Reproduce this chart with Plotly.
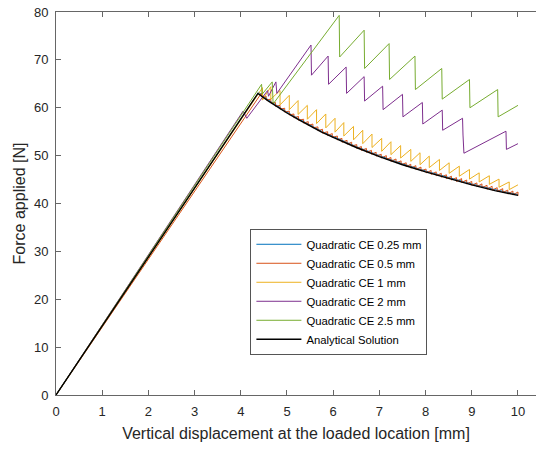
import plotly.graph_objects as go

# ---------------- data ----------------
analytic_x = [0, 4.37, 4.6, 4.8, 5.0, 5.25, 5.5, 5.75, 6.0, 6.5, 7.0, 7.5, 8.0, 8.5, 9.0, 9.5, 10.0]
analytic_F = [0, 63.0, 61.4, 60.1, 58.9, 57.5, 56.2, 54.9, 53.8, 51.7, 49.8, 48.1, 46.6, 45.2, 43.9, 42.7, 41.7]

blue_x = [0, 4.39, 4.6, 4.8, 5.0, 5.25, 5.5, 5.75, 6.0, 6.5, 7.0, 7.5, 8.0, 8.5, 9.0, 9.5, 10.0]
blue_F = [0, 63.2, 61.6, 60.3, 59.1, 57.7, 56.4, 55.1, 54.0, 51.9, 50.0, 48.3, 46.8, 45.4, 44.1, 42.9, 41.9]

red_peak_x = [4.45, 4.55, 4.65, 4.75, 4.85, 4.95, 5.05, 5.15, 5.25, 5.36, 5.46, 5.56, 5.67, 5.77,
              5.88, 5.98, 6.09, 6.19, 6.30, 6.40, 6.51, 6.61, 6.72, 6.83, 6.93, 7.04, 7.15, 7.25,
              7.36, 7.47, 7.58, 7.68, 7.79, 7.90, 8.01, 8.12, 8.23, 8.34, 8.45, 8.56, 8.67, 8.78,
              8.89, 9.00, 9.11, 9.22, 9.33, 9.44, 9.55, 9.67, 9.78, 9.89, 10.0]
red_peak_F = [63.1, 62.4, 61.8, 61.1, 60.5, 59.9, 59.3, 58.7, 58.2, 57.6, 57.1, 56.6, 56.0, 55.5,
              55.0, 54.6, 54.1, 53.6, 53.2, 52.8, 52.3, 51.9, 51.5, 51.1, 50.7, 50.3, 50.0, 49.6,
              49.3, 48.9, 48.5, 48.2, 47.9, 47.6, 47.2, 46.9, 46.6, 46.3, 46.0, 45.7, 45.4, 45.2,
              44.9, 44.6, 44.3, 44.1, 43.8, 43.6, 43.3, 43.1, 42.8, 42.6, 42.4]
red_drop_F = [62.3, 61.6, 61.0, 60.3, 59.7, 59.1, 58.5, 57.9, 57.4, 56.8, 56.3, 55.8, 55.2, 54.7,
              54.2, 53.8, 53.3, 52.8, 52.4, 52.0, 51.5, 51.1, 50.7, 50.3, 49.9, 49.5, 49.2, 48.8,
              48.5, 48.1, 47.7, 47.4, 47.1, 46.8, 46.4, 46.1, 45.8, 45.5, 45.2, 44.9, 44.6, 44.4,
              44.1, 43.8, 43.5, 43.3, 43.0, 42.8, 42.5, 42.3, 42.0, 41.8, 41.6]

yellow_peak_x = [4.47, 4.65, 4.85, 5.05, 5.24, 5.44, 5.64, 5.84, 6.04, 6.23, 6.44, 6.64, 6.84, 7.05,
                 7.25, 7.46, 7.68, 7.88, 8.08, 8.30, 8.51, 8.73, 8.95, 9.16, 9.38, 9.59, 9.81]
yellow_peak_F = [64.2, 64.4, 63.6, 62.6, 61.5, 60.5, 59.6, 58.7, 57.8, 56.9, 56.1, 55.3, 54.5, 53.6,
                 52.9, 52.1, 51.3, 50.6, 49.9, 49.2, 48.5, 47.8, 47.1, 46.4, 45.8, 45.1, 44.5]
yellow_drop_F = [61.6, 61.8, 60.6, 59.6, 58.6, 57.6, 56.7, 55.8, 54.9, 54.1, 53.3, 52.5, 51.7, 50.9,
                 50.2, 49.5, 48.8, 48.1, 47.5, 46.9, 46.3, 45.7, 45.1, 44.5, 44.0, 43.4, 42.9]
yellow_end = (10.0, 43.9)

purple_x = [0, 4.05, 4.13, 4.58, 4.60, 4.76, 4.78, 5.52, 5.53, 5.89, 5.90, 6.28, 6.29, 6.67, 6.68,
            7.07, 7.08, 7.50, 7.51, 7.93, 7.94, 8.36, 8.37, 8.80, 8.81, 8.83, 9.74, 9.75, 10.0]
purple_F = [0, 59.3, 57.8, 63.6, 62.4, 65.4, 63.0, 73.1, 66.8, 70.8, 64.9, 68.5, 63.0, 66.5, 61.4,
            64.5, 59.6, 62.8, 58.1, 61.1, 56.6, 59.5, 55.3, 57.8, 54.3, 50.5, 55.1, 51.3, 52.5]

green_x = [0, 4.45, 4.46, 4.68, 4.70, 6.13, 6.14, 6.67, 6.68, 7.21, 7.22, 7.77, 7.78, 8.35, 8.36,
           8.95, 8.96, 9.56, 9.57, 10.0]
green_F = [0, 64.9, 62.8, 65.4, 60.8, 79.3, 70.6, 76.2, 68.2, 73.4, 65.9, 70.8, 63.8, 68.2, 61.8,
           65.9, 60.0, 63.8, 58.1, 60.5]

x_ticks = [0, 1, 2, 3, 4, 5, 6, 7, 8, 9, 10]
y_ticks = [0, 10, 20, 30, 40, 50, 60, 70, 80]

names = ["Quadratic CE 0.25 mm", "Quadratic CE 0.5 mm", "Quadratic CE 1 mm",
         "Quadratic CE 2 mm", "Quadratic CE 2.5 mm", "Analytical Solution"]
colors = ["#0072BD", "#D95319", "#EDB120", "#7E2F8E", "#77AC30", "#000000"]


def saw(px, pF, dF, end=None):
    xs, ys = [0.0], [0.0]
    for a, b, c in zip(px, pF, dF):
        xs += [a, a]
        ys += [b, c]
    if end is not None:
        xs.append(end[0]); ys.append(end[1])
    return xs, ys


red_x, red_F = saw(red_peak_x, red_peak_F, red_drop_F)
yel_x, yel_F = saw(yellow_peak_x, yellow_peak_F, yellow_drop_F, yellow_end)

series = [(blue_x, blue_F), (red_x, red_F), (yel_x, yel_F),
          (purple_x, purple_F), (green_x, green_F), (analytic_x, analytic_F)]

fig = go.Figure()
for (xs, ys), nm, col in zip(series, names, colors):
    fig.add_trace(go.Scatter(x=xs, y=ys, mode="lines", name=nm,
                             line=dict(color=col, width=1.4 if col == "#000000" else 1)))

FONT = "Liberation Sans, Arial, sans-serif"
fig.update_layout(
    width=536, height=449,
    margin=dict(l=56, r=0, t=12, b=54, autoexpand=False),
    paper_bgcolor="white", plot_bgcolor="white",
    font=dict(family=FONT, size=13, color="#262626"),
    showlegend=True,
    legend=dict(x=0.405, y=0.434, xanchor="left", yanchor="top",
                bgcolor="white", bordercolor="#555555", borderwidth=1,
                font=dict(family=FONT, size=11.3, color="#000000"),
                tracegroupgap=0, itemwidth=45),
)
fig.update_xaxes(range=[0, 10.39], tickvals=x_ticks, ticktext=[str(v) for v in x_ticks],
                 showline=True, linecolor="#666666", linewidth=1, mirror="ticks",
                 ticks="inside", ticklen=5, tickcolor="#666666", showgrid=False, zeroline=False,
                 ticklabelstandoff=4,
                 title=dict(text="Vertical displacement at the loaded location [mm]",
                            font=dict(size=16, family=FONT, color="#262626"), standoff=10))
fig.update_yaxes(range=[0, 80], tickvals=y_ticks, ticktext=[str(v) for v in y_ticks],
                 showline=True, linecolor="#666666", linewidth=1, mirror=False,
                 ticks="inside", ticklen=5, tickcolor="#666666", showgrid=False, zeroline=False,
                 ticklabelstandoff=4,
                 title=dict(text="Force applied [N]",
                            font=dict(size=16, family=FONT, color="#262626"), standoff=4))

fig.write_html("out.html", config={"displayModeBar": False},
               post_script="document.body.style.margin='0';")
